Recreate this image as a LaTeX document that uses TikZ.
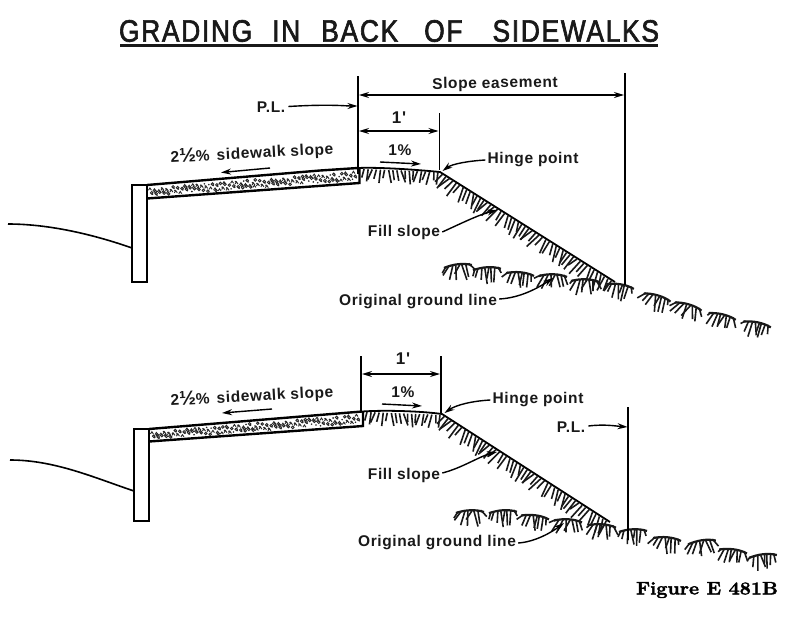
\documentclass[tikz,border=0pt]{standalone}
\usepackage{fontspec}
\setmainfont{Liberation Sans}
\newfontfamily\titlefont[LetterSpace=5.5,FakeBold=2,FakeStretch=0.85]{Liberation Sans}
\newfontfamily\labelfont[LetterSpace=4]{Liberation Sans}
\newfontfamily\figfont[FakeBold=2,FakeStretch=1.1]{Latin Modern Roman}
\usetikzlibrary{arrows.meta,calc}
\tikzset{
  x=1pt,y=-1pt,
  lbl/.style={font=\labelfont\bfseries\fontsize{15.5}{17}\selectfont,inner sep=0pt,text=black!90},
  heavy/.style={line width=2.2pt,black},
  dim/.style={line width=1.4pt,black},
  arr/.style={line width=1.4pt,-{Stealth[length=10pt,width=6pt]},black},
  darr/.style={line width=1.4pt,{Stealth[length=10pt,width=6pt]}-{Stealth[length=10pt,width=6pt]},black},
  hatchline/.style={line width=1.6pt,black!90},
}
% hatch strokes under a line from #1 to #2, #3 strokes of length #4, base angle #5
\newcommand{\slopehatch}[5]{%
  \foreach \i in {1,...,#3}{%
    \pgfmathsetmacro\ang{#5+16*sin(\i*29)+8*sin(\i*137)}%
    \pgfmathsetmacro\frc{(\i-0.5)/#3}%
    \pgfmathsetmacro\ll{#4*(0.85+0.2*cos(\i*211))}%
    \draw[hatchline] ($(#1)!\frc!(#2)$) -- ++(\ang:\ll);%
  }}
% ground tuft at (#1,#2), rotated by #3, variant #4
\newcommand{\tuft}[4]{%
  \begin{scope}[shift={(#1,#2)},rotate=#3]
    \draw[line width=2.2pt,black!90] (-14,-1) .. controls (-5,-3.5) and (6,-3.5) .. (14,0);
    \foreach \a/\b/\h in {-12/-17/3,-9/-14/8,-5/-9/11,-2/-1/12,2/-2/8,4/5/12,8/8/11,11/14/6}{%
      \pgfmathsetmacro\bb{\b+2.5*sin((\a+#4)*97)}%
      \pgfmathsetmacro\hh{\h+2*cos((\a+#4)*71)}%
      \draw[hatchline] (\a,-2) -- (\bb,\hh);%
    }
  \end{scope}}
% aggregate inside a slab: left x, top-left y, bottom-left y, right x, top-right y, bottom-right y
\newcommand{\aggregate}[6]{%
  \foreach \i in {1,...,170}{%
    \pgfmathsetmacro\fx{mod(\i*0.618034,1)}%
    \pgfmathsetmacro\fy{0.16+0.68*mod(\i*0.754878,1)}%
    \pgfmathsetmacro\px{#1+2+(#4-#1-4)*\fx}%
    \pgfmathsetmacro\tp{#2+(#5-#2)*\fx}%
    \pgfmathsetmacro\bt{#3+(#6-#3)*\fx}%
    \pgfmathsetmacro\py{\tp+(\bt-\tp)*\fy}%
    \pgfmathtruncatemacro\kind{mod(\i,3)}%
    \ifnum\kind=0
      \fill[black!85] (\px,\py) circle (0.9);
    \else\ifnum\kind=1
      \draw[line width=0.9pt,black!85] (\px,\py) circle (1.3);
    \else
      \draw[line width=0.9pt,black!85] (\px-1.5,\py+1) -- (\px,\py-1.2) -- (\px+1.5,\py+1);
    \fi\fi
  }}
\newcommand{\halfpct}{2{\fontsize{20}{20}\selectfont ½}\%}
\begin{document}
\begin{tikzpicture}
\useasboundingbox (0,0) rectangle (800,621);
\fill[white] (0,0) rectangle (800,621);

% Title
\node[inner sep=0pt,font=\titlefont\fontsize{31}{33}\selectfont,text=black!90] (title) at (389,31) {GRADING\hspace{11pt} IN\hspace{12pt} BACK\hspace{17pt} OF\hspace{21pt} SIDEWALKS};
\coordinate (ula) at (120,45.5); \coordinate (ulb) at (658,45.5);
\draw[line width=2.4pt,black!90] (ula) -- (ulb);

%%% TOP DIAGRAM
\coordinate (Ta) at (132,282); \coordinate (Tb) at (132,185); \coordinate (Tc) at (147,185); \coordinate (Td) at (147,282);
\draw[heavy] (Ta) -- (Tb) -- (Tc) -- (Td) -- cycle;
\coordinate (Tg) at (8,224); \coordinate (Tgh) at (132,248);
\draw[line width=1.6pt] (Tg) .. controls (50,224) and (95,235) .. (Tgh);
\coordinate (Ts1) at (147,185); \coordinate (Ts2) at (320,170.5); \coordinate (Ts3) at (358,168);
\coordinate (Tb1) at (147,198.5); \coordinate (Tb2) at (359.5,183);
\aggregate{147}{186}{197.5}{359}{170}{182}
\draw[line width=2.4pt] (Ts1) -- (Ts2) -- (Ts3);
\draw[line width=2.4pt] (Tb1) -- (Tb2) -- (359.5,169);
\coordinate (Th) at (440,172); \coordinate (Tt) at (615,282);
\draw[line width=1.8pt] (Ts3) .. controls (380,167) and (420,170) .. (Th) -- (Tt);
\slopehatch{362,169}{440,172}{19}{13}{92}
\slopehatch{441,173}{613,282}{50}{16}{122}
\foreach \px/\py/\r/\v in {458/267/8/1,487/270/5/2,520/275/-4/3,553/277/0/4,585/282/0/5,620/287/-8/6,657/298/-15/7,688/307/-15/8,722/317/-12/9,757/325/-10/10}{\tuft{\px}{\py}{\r}{\v}}

\coordinate (Tpl1) at (358,76); \coordinate (Tpl2) at (358,174);
\draw[dim] (Tpl1) -- (Tpl2);
\coordinate (Tr1) at (625,73); \coordinate (Tr2) at (625,285);
\draw[dim] (Tr1) -- (Tr2);
\coordinate (Te1) at (359,95); \coordinate (Te2) at (624,95);
\draw[darr] (Te1) -- (Te2);
\node[lbl,rotate=1] (tease) at (495,84) {Slope easement};
\node[lbl] (tpl) at (271,107.5) {P.L.};
\coordinate (Tplt) at (357.5,106);
\draw[arr] (tpl.east)++(3,-1) coordinate (Tpls) (Tpls) .. controls (330,104) and (345,106) .. (Tplt);
\coordinate (T1a) at (439,113); \coordinate (T1b) at (439,170);
\draw[line width=1pt] (T1a) -- (T1b);
\coordinate (Tf1) at (359,131); \coordinate (Tf2) at (438.5,131);
\draw[darr] (Tf1) -- (Tf2);
\node[lbl,font=\labelfont\bfseries\fontsize{17}{18}\selectfont] (t1ft) at (399,118) {1'};
\node[lbl] (t1pc) at (400,150) {1\%};
\coordinate (Tp1) at (380,162); \coordinate (Tp2) at (421,164);
\draw[arr] (Tp1) -- (Tp2);
\node[lbl,rotate=3] (tside) at (252,153) {\halfpct\hspace{2pt} sidewalk slope};
\coordinate (Ta1) at (270,168); \coordinate (Ta2) at (221,172.5);
\draw[arr] (Ta1) -- (Ta2);
\node[lbl] (thinge) at (533,160) {Hinge point};
\coordinate (Thg) at (442.5,171);
\draw[arr] (thinge.west)++(-2,0) coordinate (Thgs) (Thgs) .. controls (468,161) and (452,164) .. (Thg);
\node[lbl] (tfill) at (404,232) {Fill slope};
\coordinate (Tfa) at (497,210);
\draw[arr] (tfill.east)++(2,0) coordinate (Tfs) (Tfs) .. controls (460,224) and (478,215) .. (Tfa);
\node[lbl] (torig) at (418,302) {Original ground line};
\coordinate (Toa) at (553,278);
\draw[arr] (torig.east)++(2,-3) coordinate (Tos) (Tos) .. controls (520,298) and (538,288) .. (Toa);

%%% BOTTOM DIAGRAM
\coordinate (Ba) at (134,521); \coordinate (Bb) at (134,429); \coordinate (Bc) at (149,429); \coordinate (Bd) at (149,521);
\draw[heavy] (Ba) -- (Bb) -- (Bc) -- (Bd) -- cycle;
\coordinate (Bg) at (10,460); \coordinate (Bgh) at (134,491);
\draw[line width=1.6pt] (Bg) .. controls (55,460) and (95,478) .. (Bgh);
\coordinate (Bs1) at (149,429); \coordinate (Bs3) at (362,411.5);
\coordinate (Bb1) at (149,441.5); \coordinate (Bb2) at (363,426);
\aggregate{149}{430}{440.5}{362}{413}{425}
\draw[line width=2.4pt] (Bs1) -- (Bs3);
\draw[line width=2.4pt] (Bb1) -- (Bb2) -- (363,412);
\coordinate (Bh) at (442,414); \coordinate (Bt) at (610,522);
\draw[line width=1.8pt] (Bs3) .. controls (385,410) and (420,411) .. (Bh) -- (Bt);
\slopehatch{365,412}{442,415}{19}{13}{92}
\slopehatch{443,415}{608,522}{48}{16}{122}
\foreach \px/\py/\r/\v in {470/513/4/1,503/513/5/2,535/518/-6/3,568/522/-2/4,602/527/-3/5,633/532/4/6,667/540/-4/7,702/543/10/8,733/552/-6/9,763/557/8/10}{\tuft{\px}{\py}{\r}{\v}}

\coordinate (Bpl1) at (361,356); \coordinate (Bpl2) at (361,412);
\draw[dim] (Bpl1) -- (Bpl2);
\coordinate (B1a) at (441,356); \coordinate (B1b) at (441,414);
\draw[dim] (B1a) -- (B1b);
\coordinate (Bf1) at (362,374); \coordinate (Bf2) at (440,374);
\draw[darr] (Bf1) -- (Bf2);
\node[lbl,font=\labelfont\bfseries\fontsize{17}{18}\selectfont] (b1ft) at (403,359) {1'};
\node[lbl] (b1pc) at (403,392) {1\%};
\coordinate (Bp1) at (382,404); \coordinate (Bp2) at (422,406);
\draw[arr] (Bp1) -- (Bp2);
\node[lbl,rotate=3] (bside) at (252,396) {\halfpct\hspace{2pt} sidewalk slope};
\coordinate (Ba1) at (272,409); \coordinate (Ba2) at (222,413);
\draw[arr] (Ba1) -- (Ba2);
\node[lbl] (bhinge) at (538,400) {Hinge point};
\coordinate (Bhg) at (444.5,413);
\draw[arr] (bhinge.west)++(-2,0) coordinate (Bhgs) (Bhgs) .. controls (472,401) and (456,405) .. (Bhg);
\coordinate (Br1) at (628,407); \coordinate (Br2) at (628,540);
\draw[dim] (Br1) -- (Br2);
\node[lbl] (bpl) at (571,427) {P.L.};
\coordinate (Bplt) at (627.5,427);
\draw[arr] (bpl.east)++(3,-1) coordinate (Bpls) (Bpls) .. controls (605,424) and (615,426) .. (Bplt);
\node[lbl] (bfill) at (404,475) {Fill slope};
\coordinate (Bfa) at (497,452);
\draw[arr] (bfill.east)++(2,-2) coordinate (Bfs) (Bfs) .. controls (462,468) and (480,456) .. (Bfa);
\node[lbl] (borig) at (437,543) {Original ground line};
\coordinate (Boa) at (564,523);
\draw[arr] (borig.east)++(2,0) coordinate (Bos) (Bos) .. controls (535,542) and (552,532) .. (Boa);

\node[inner sep=0pt,font=\figfont\bfseries\fontsize{18}{20}\selectfont] (fig) at (707,590) {Figure E 481B};
\end{tikzpicture}
\end{document}
